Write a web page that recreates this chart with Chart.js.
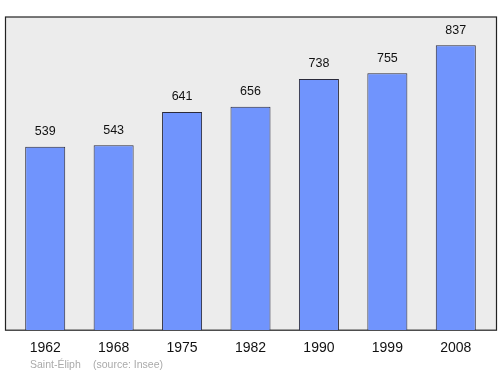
<!DOCTYPE html>
<html>
<head>
<meta charset="utf-8">
<script src="https://cdn.jsdelivr.net/npm/chart.js@4"></script>
<style>
  body { margin: 0; background: #fff; }
  #wrap { width: 500px; height: 374px; }
</style>
</head>
<body>
<div id="wrap"><canvas id="chart" width="500" height="374"></canvas></div>
<script>
// Census years and population
const years = ["1962", "1968", "1975", "1982", "1990", "1999", "2008"];
const population = [539, 543, 641, 656, 738, 755, 837];
const placeName = "Saint-Éliph";
const sourceText = "(source: Insee)";

// Grey panel behind the bars, a bit wider than the chart area
const panelPlugin = {
  id: "panel",
  beforeDraw(chart) {
    const ctx = chart.ctx;
    const a = chart.chartArea;
    ctx.save();
    ctx.fillStyle = "#ececec";
    ctx.fillRect(5.5, a.top, 491, a.bottom - a.top);
    ctx.strokeStyle = "#222";
    ctx.lineWidth = 1.2;
    ctx.strokeRect(5.5, a.top, 491, a.bottom - a.top);
    ctx.restore();
  },
  afterDraw(chart) {
    const ctx = chart.ctx;
    ctx.save();
    // value above each bar
    ctx.fillStyle = "#111";
    ctx.font = "12.5px 'Liberation Sans', Arial, sans-serif";
    ctx.textAlign = "center";
    ctx.textBaseline = "middle";
    const meta = chart.getDatasetMeta(0);
    meta.data.forEach((bar, i) => {
      ctx.fillText(population[i], bar.x, bar.y - 15);
    });
    // source line
    ctx.fillStyle = "#aaa";
    ctx.font = "10.5px 'Liberation Sans', Arial, sans-serif";
    ctx.textAlign = "left";
    ctx.fillText(placeName, 30, 365);
    ctx.fillText(sourceText, 93, 365);
    ctx.restore();
  }
};

new Chart(document.getElementById("chart"), {
  type: "bar",
  plugins: [panelPlugin],
  data: {
    labels: years,
    datasets: [{
      data: population,
      backgroundColor: "#7094fd",
      borderColor: "#2a2a3a",
      borderWidth: 1,
      barPercentage: 0.585,
      categoryPercentage: 1
    }]
  },
  options: {
    responsive: false,
    animation: false,
    layout: { padding: { left: 11, right: 10, top: 17, bottom: 15 } },
    plugins: { legend: { display: false }, tooltip: { enabled: false } },
    scales: {
      x: {
        grid: { display: false },
        border: { display: false },
        ticks: {
          color: "#111",
          font: { size: 14, family: "'Liberation Sans', Arial, sans-serif" },
          padding: 2,
          maxRotation: 0
        }
      },
      y: {
        display: false,
        min: 0,
        max: 920
      }
    }
  }
});
</script>
</body>
</html>
